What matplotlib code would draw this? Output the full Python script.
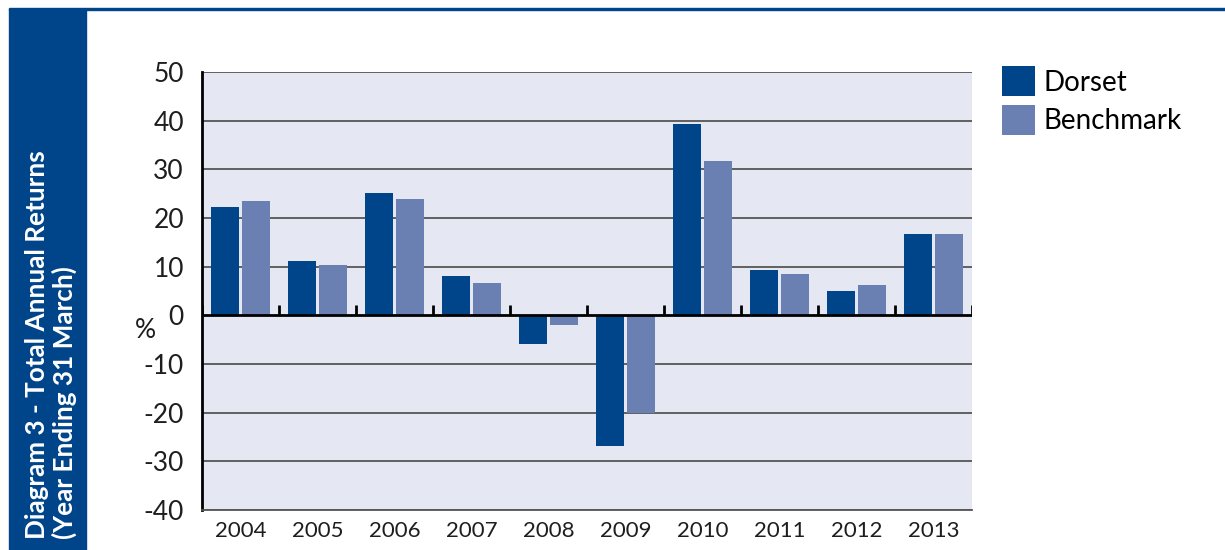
import numpy as np
import matplotlib.pyplot as plt
from matplotlib.patches import Rectangle

years = ['2004', '2005', '2006', '2007', '2008', '2009', '2010', '2011', '2012', '2013']
dorset = [22.3, 11.2, 25.2, 8.0, -5.8, -26.9, 39.3, 9.4, 5.1, 16.8]
benchmark = [23.5, 10.4, 24.0, 6.6, -1.9, -20.0, 31.7, 8.5, 6.3, 16.8]
yticks = [-40, -30, -20, -10, 0, 10, 20, 30, 40, 50]

dark_blue = '#00458A'
light_blue = '#6B80B2'

plt.rcParams['font.family'] = ['Lato', 'DejaVu Sans']

fig = plt.figure(figsize=(12.25, 5.5), dpi=100)

# blue band with the title on the left, plus the thin line on top
fig.patches.append(Rectangle((9 / 1225, 0), 77 / 1225, 1 - 9 / 550,
                             transform=fig.transFigure, color=dark_blue, zorder=0))
fig.patches.append(Rectangle((9 / 1225, 1 - 10 / 550), 1 - 9 / 1225, 2 / 550,
                             transform=fig.transFigure, color=dark_blue, zorder=0))
fig.text(51 / 1225, 1 - 539 / 550, 'Diagram 3 - Total Annual Returns\n(Year Ending 31 March)',
         rotation=90, color='white', fontsize=18.8, fontweight='bold',
         ha='center', va='bottom', multialignment='left', linespacing=1.15)

ax = fig.add_axes([202 / 1225, 40 / 550, 770 / 1225, 438 / 550])
ax.set_facecolor('#E5E8F2')

x = np.arange(len(years))
w = 0.36
b1 = ax.bar(x - 0.2, dorset, w, color=dark_blue, zorder=3, label='Dorset')
b2 = ax.bar(x + 0.2, benchmark, w, color=light_blue, zorder=3, label='Benchmark')

for t in yticks:
    if t != 0:
        ax.axhline(t, color='#555555', lw=1.3, zorder=1)
ax.axhline(0, color='black', lw=2, zorder=4)
# little upward ticks on the zero line between years
ax.vlines(np.arange(len(years) + 1) - 0.5, 0, 2.2, color='black', lw=2, zorder=4)

ax.set_xlim(-0.5, len(years) - 0.5)
ax.set_ylim(-40, 50)
ax.set_yticks(yticks)
ax.set_yticklabels([str(t) for t in yticks], fontsize=19, color='#1e1e1e')
ax.set_xticks(x)
ax.set_xticklabels(years, fontsize=16, color='#1e1e1e')
ax.tick_params(axis='both', length=0)
ax.tick_params(axis='y', pad=13)
ax.tick_params(axis='x', pad=8)

for s in ['top', 'right']:
    ax.spines[s].set_visible(False)
ax.spines['left'].set_color('black')
ax.spines['left'].set_linewidth(2)
ax.spines['bottom'].set_color('#555555')
ax.spines['bottom'].set_linewidth(1.3)

ax.text(-0.073, -0.6, '%', transform=ax.get_yaxis_transform(), fontsize=19,
        ha='center', va='top', color='#1e1e1e')

fig.legend(handles=[b1, b2], loc='upper left', bbox_to_anchor=(991 / 1225, 1 - 55 / 550),
           frameon=False, fontsize=20, handlelength=1.2, handleheight=1.3,
           handletextpad=0.3, labelspacing=0.3, borderaxespad=0)

fig.savefig('out.png', dpi=100)
